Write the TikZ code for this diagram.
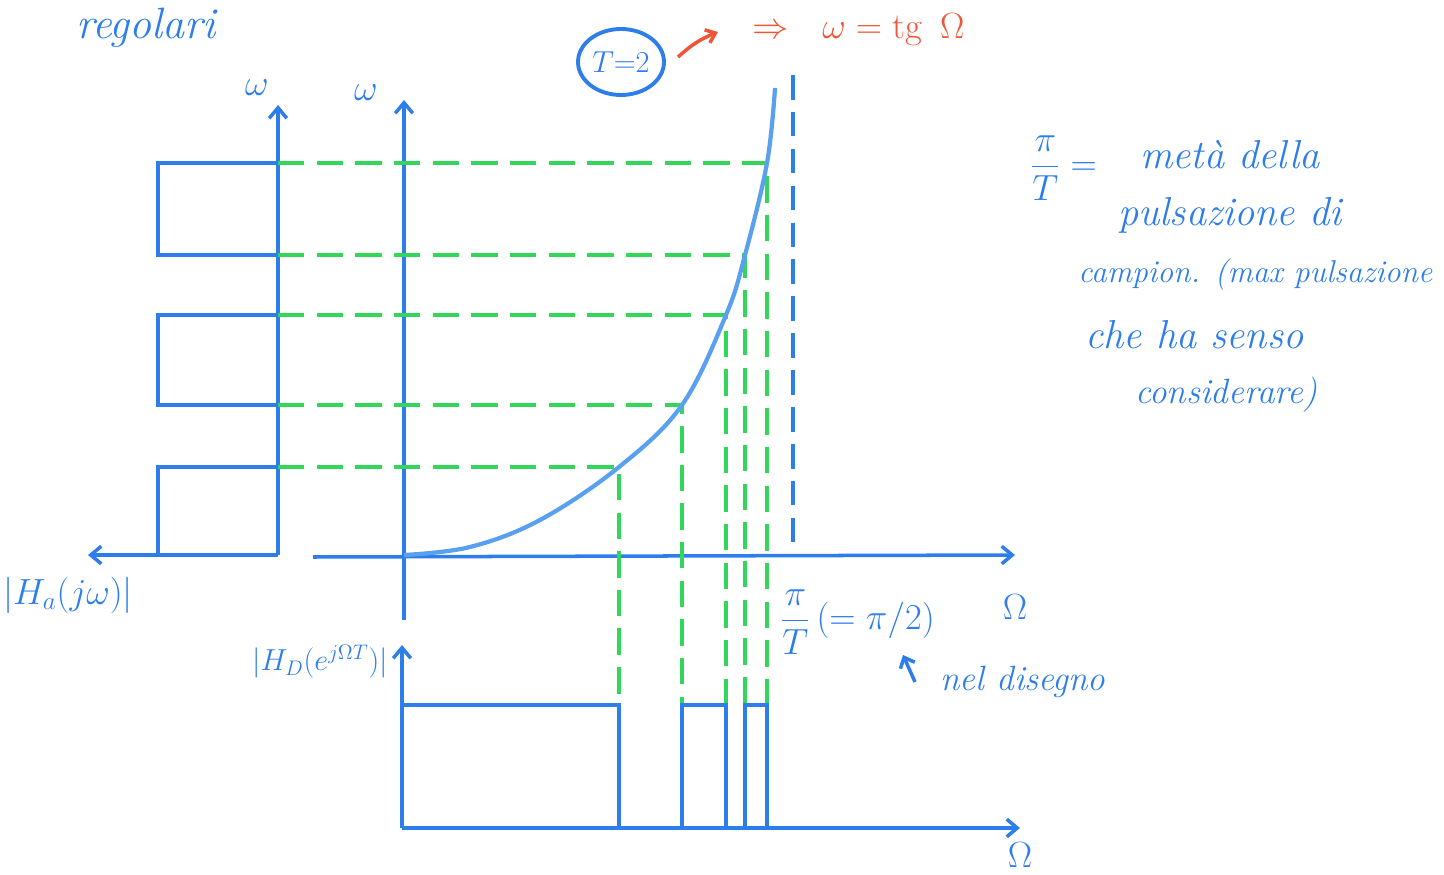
\documentclass[tikz,border=0pt]{standalone}
\usepackage{amsmath}
\usetikzlibrary{arrows.meta,shapes.geometric}
\definecolor{penblue}{RGB}{45,125,235}
\definecolor{curveblue}{RGB}{90,160,240}
\definecolor{pengreen}{RGB}{50,215,90}
\definecolor{penred}{RGB}{240,85,55}
\begin{document}
\begin{tikzpicture}[x=0.02cm,y=-0.02cm,
  ax/.style={penblue,line width=2pt,-{Straight Barb[length=6pt,width=10pt,line width=2pt]}},
  bl/.style={penblue,line width=2pt},
  gd/.style={pengreen,line width=2pt,dash pattern=on 15pt off 7pt},
  asy/.style={penblue,line width=2pt,dash pattern=on 14pt off 7pt},
  lbl/.style={text=penblue,font=\fontsize{20}{24}\selectfont,inner sep=0pt},
  hand/.style={text=penblue,inner sep=0pt,anchor=west},
  rlbl/.style={text=penred,font=\fontsize{22}{26}\selectfont,inner sep=0pt}]
\useasboundingbox (0,0) rectangle (1444,875);

% analog axes
\coordinate (Ao) at (278,555);
\coordinate (Atop) at (278,105);
\coordinate (Aleft) at (88,555);
\draw[ax] (Ao) -- (Atop);
\draw[ax] (Ao) -- (Aleft);

% analog bands (sideways)
\foreach \name/\y in {h1/163,h2/255,h3/315,h4/405,h5/467,h6/555}{
  \coordinate (\name) at (278,\y);
  \coordinate (\name l) at (158,\y);
}
\draw[bl] (h1) -- (h1l) -- (h2l) -- (h2);
\draw[bl] (h3) -- (h3l) -- (h4l) -- (h4);
\draw[bl] (h5) -- (h5l) -- (h6l);

% mapping axes
\coordinate (Mo) at (404,555);
\coordinate (Mb) at (404,620);
\coordinate (Mt) at (404,100);
\coordinate (Ml) at (313,557);
\coordinate (Mr) at (1015,555);
\draw[ax] (Mb) -- (Mt);
\draw[ax] (Ml) -- (Mr);

% curve points
\coordinate (c5) at (619,467);
\coordinate (c4) at (682,405);
\coordinate (c3) at (726,315);
\coordinate (c2) at (745,255);
\coordinate (c1) at (767,163);

% bottom digital axes
\coordinate (Bo) at (402,828);
\coordinate (Bt0) at (402,645);
\coordinate (Br) at (1020,828);
\draw[ax] (Bo) -- (Bt0);
\draw[ax] (Bo) -- (Br);
\foreach \name/\x in {v5/619,v4/682,v3/726,v2/745,v1/767}{
  \coordinate (\name t) at (\x,705);
  \coordinate (\name b) at (\x,828);
}
\coordinate (Bt) at (402,705);

% green projections
\draw[gd] (h1) -- (c1) -- (v1t);
\draw[gd] (h2) -- (c2) -- (v2t);
\draw[gd] (h3) -- (c3) -- (v3t);
\draw[gd] (h4) -- (c4) -- (v4t);
\draw[gd] (h5) -- (c5) -- (v5t);

% asymptote
\coordinate (as1) at (793,75);
\coordinate (as2) at (793,555);
\draw[asy] (as1) -- (as2);

% curve omega = tg Omega
\draw[curveblue,line width=2.4pt] plot[smooth,tension=0.6] coordinates
  {(404,555) (470,547) (540,520) (c5) (c4) (c3) (c2) (c1) (775,88)};

% digital bands
\draw[bl] (Bt) -- (v5t) -- (v5b);
\draw[bl] (v4b) -- (v4t) -- (v3t) -- (v3b);
\draw[bl] (v2b) -- (v2t) -- (v1t) -- (v1b);

% labels
\node[lbl,font=\fontsize{25}{28}\selectfont\itshape] (reg) at (146,28) {regolari};
\node[lbl] (wA) at (257,88) {$\omega$};
\node[lbl] (wM) at (366,93) {$\omega$};
\node[lbl] (Ha) at (68,595) {$|H_a(j\omega)|$};
\node[lbl,font=\fontsize{18}{22}\selectfont] (Hd) at (320,662) {$|H_D(e^{j\Omega T})|$};
\node[lbl] (Om1) at (1015,607) {$\Omega$};
\node[lbl] (Om2) at (1020,855) {$\Omega$};
\node[lbl,anchor=west] (piT) at (780,622) {$\dfrac{\pi}{T}\left(=\pi/2\right)$};
\node[hand,font=\fontsize{20}{24}\selectfont\itshape] (nel) at (940,682) {nel disegno};
\coordinate (na) at (915,682);
\coordinate (nb) at (903,655);
\draw[penblue,line width=2pt,-{Straight Barb[length=5pt,width=9pt,line width=2pt]}] (na) -- (nb);

% T=2
\node[text=penblue,font=\fontsize{18}{22}\selectfont,inner sep=0pt] (T2) at (621,62) {$T{=}2$};
\draw[penblue,line width=2.2pt] (T2.center) ellipse [x radius=0.86cm, y radius=0.66cm];
\coordinate (oa) at (678,57);
\coordinate (ob) at (718,32);
\draw[penred,line width=2pt,-{Straight Barb[length=5pt,width=8pt,line width=2pt]}] (oa) to[bend left=10] (ob);
\node[rlbl,anchor=west] (tg) at (752,30) {$\Rightarrow\ \ \omega=\mathrm{tg}\ \,\Omega$};

% right text
\node[lbl,anchor=west] (frac) at (1030,168) {$\dfrac{\pi}{T}=$};
\node[hand,font=\fontsize{23}{26}\selectfont\itshape] (t1) at (1140,155) {metà della};
\node[hand,font=\fontsize{23}{26}\selectfont\itshape] (t2) at (1118,215) {pulsazione di};
\node[hand,font=\fontsize{18}{22}\selectfont\itshape] (t3) at (1078,275) {campion. (max pulsazione};
\node[hand,font=\fontsize{23}{26}\selectfont\itshape] (t4) at (1085,335) {che ha senso};
\node[hand,font=\fontsize{20}{24}\selectfont\itshape] (t5) at (1135,395) {considerare)};
\end{tikzpicture}
\end{document}
